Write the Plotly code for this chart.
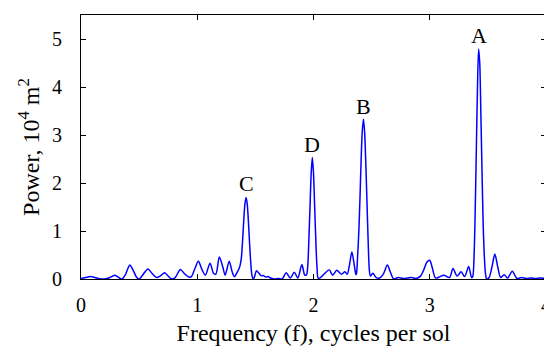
import plotly.graph_objects as go

freq = [0.00, 0.04, 0.08, 0.12, 0.16, 0.20, 0.24, 0.29, 0.35, 0.38, 0.40, 0.42, 0.445, 0.48, 0.50,
        0.53, 0.575, 0.61, 0.65, 0.68, 0.72, 0.75, 0.78, 0.81, 0.855, 0.89, 0.93, 0.95, 0.98,
        1.01, 1.04, 1.07, 1.11, 1.14, 1.16, 1.19, 1.22, 1.24, 1.275, 1.30, 1.32, 1.345, 1.36,
        1.37, 1.38, 1.39, 1.40, 1.41, 1.42, 1.43, 1.44, 1.45, 1.46, 1.47, 1.48, 1.49,
        1.51, 1.53, 1.55, 1.57, 1.59, 1.61, 1.63, 1.66, 1.70, 1.73, 1.765, 1.80, 1.835, 1.865,
        1.90, 1.925, 1.94, 1.95, 1.96, 1.97, 1.98, 1.99, 2.00, 2.01, 2.02, 2.03, 2.04,
        2.06, 2.09, 2.135, 2.165, 2.20, 2.24, 2.27, 2.29, 2.31, 2.33, 2.35, 2.365,
        2.37, 2.38, 2.39, 2.40, 2.41, 2.42, 2.43, 2.44, 2.45, 2.46, 2.47, 2.48, 2.49,
        2.51, 2.54, 2.57, 2.60, 2.636, 2.66, 2.69, 2.73, 2.77, 2.81, 2.846, 2.88, 2.92,
        2.95, 2.975, 3.00, 3.02, 3.05, 3.08, 3.12, 3.17, 3.20, 3.235, 3.27, 3.30, 3.335, 3.36,
        3.37, 3.38, 3.39, 3.40, 3.41, 3.42, 3.43, 3.44, 3.45, 3.46, 3.47, 3.48, 3.49,
        3.51, 3.535, 3.56, 3.585, 3.61, 3.64, 3.67, 3.71, 3.75, 3.79, 3.83, 3.87, 3.91, 3.95, 4.00]

power = [0.01, 0.03, 0.05, 0.03, 0.005, 0.0, 0.02, 0.08, 0.0, 0.08, 0.2, 0.29, 0.2, 0.03, 0.0,
         0.08, 0.21, 0.12, 0.03, 0.06, 0.13, 0.06, 0.0, 0.03, 0.20, 0.11, 0.04, 0.05, 0.22,
         0.37, 0.2, 0.08, 0.33, 0.12, 0.1, 0.46, 0.25, 0.08, 0.37, 0.15, 0.05, 0.15, 0.22,
         0.3, 0.45, 0.8, 1.22, 1.56, 1.70, 1.56, 1.2, 0.75, 0.35, 0.08, 0.0, 0.03,
         0.17, 0.12, 0.07, 0.07, 0.04, 0.05, 0.02, 0.0, 0.01, 0.0, 0.13, 0.02, 0.14, 0.02,
         0.30, 0.08, 0.09, 0.25, 0.8, 1.5, 2.2, 2.53, 2.2, 1.5, 0.8, 0.25, 0.02,
         0.03, 0.1, 0.19, 0.08, 0.18, 0.1, 0.15, 0.1, 0.3, 0.56, 0.3, 0.09,
         0.12, 0.5, 1.0, 1.7, 2.5, 3.1, 3.33, 3.05, 2.4, 1.6, 0.8, 0.2, 0.06,
         0.12, 0.03, 0.02, 0.1, 0.29, 0.15, 0.0, 0.03, 0.01, 0.02, 0.03, 0.01, 0.06,
         0.2, 0.35, 0.39, 0.25, 0.02, 0.04, 0.08, 0.03, 0.22, 0.06, 0.15, 0.05, 0.26, 0.03,
         0.05, 0.4, 1.3, 2.6, 3.9, 4.79, 4.5, 3.4, 2.2, 1.1, 0.45, 0.1, 0.0,
         0.03, 0.25, 0.52, 0.25, 0.03, 0.09, 0.02, 0.16, 0.01, 0.03, 0.01, 0.02, 0.01, 0.02, 0.01]

peak_labels = ["A", "B", "C", "D"]
peak_freq = [3.42, 2.43, 1.42, 1.99]
peak_label_y = [5.07, 3.59, 1.98, 2.81]

x_ticks = [0, 1, 2, 3, 4]
y_ticks = [0, 1, 2, 3, 4, 5]

FONT = "Liberation Serif"

fig = go.Figure()
fig.add_trace(go.Scatter(x=freq, y=power, mode="lines",
                         line=dict(color="#0000ff", width=1.5, shape="spline", smoothing=0.8),
                         showlegend=False, hoverinfo="skip"))

for lab, fx, fy in zip(peak_labels, peak_freq, peak_label_y):
    fig.add_annotation(x=fx, y=fy, text=lab, showarrow=False,
                       font=dict(family=FONT, size=22, color="black"))

axis_common = dict(showgrid=False, zeroline=False, showline=True, linecolor="black",
                   linewidth=1.2, mirror="ticks", ticks="inside", ticklen=5,
                   tickcolor="black", tickwidth=1, automargin=False,
                   tickfont=dict(family=FONT, size=20, color="black"))

fig.update_xaxes(range=[0, 4], tickvals=x_ticks, ticktext=[str(v) for v in x_ticks],
                 title=dict(text="Frequency (f), cycles per sol", standoff=12,
                            font=dict(family=FONT, size=24, color="black")),
                 ticklabelstandoff=8, **axis_common)
fig.update_yaxes(range=[0, 5.5], tickvals=y_ticks, ticktext=[str(v) for v in y_ticks],
                 title=dict(text="Power, 10<sup>4</sup> m<sup>2</sup>", standoff=5,
                            font=dict(family=FONT, size=24, color="black")),
                 ticklabelstandoff=14, **axis_common)

fig.update_layout(width=552, height=338, margin=dict(l=73, r=14, t=7, b=67),
                  plot_bgcolor="white", paper_bgcolor="white")

fig.write_html("out.html")
